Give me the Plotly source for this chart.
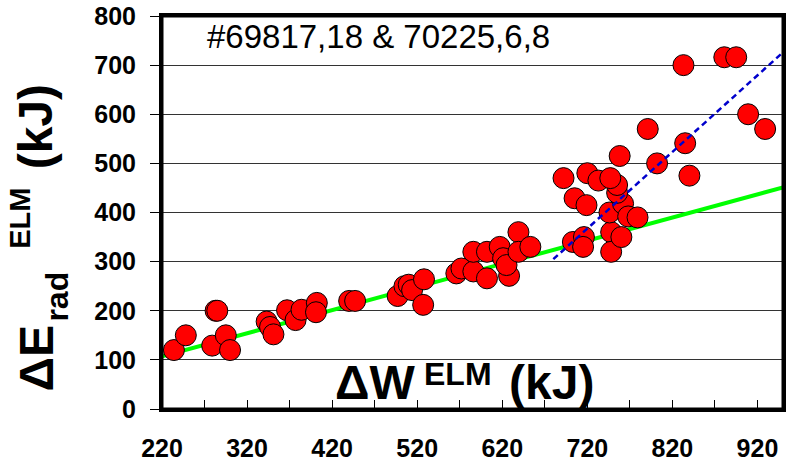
import plotly.graph_objects as go

# ---- data ----
dW = [234, 248, 283, 285, 279, 295, 300, 343, 347, 351, 367, 377, 384, 402, 401,
      440, 447, 497, 505, 510, 514, 528, 527, 566, 572, 586, 586, 602, 602, 617,
      621, 628, 625, 639, 639, 653, 703, 716, 715, 748, 748, 760, 746, 762, 705,
      719, 768, 779, 755, 755, 692, 720, 733, 747, 758, 791, 802, 835, 840, 833,
      881, 895, 909, 929]
dE = [120, 150, 200, 200, 129, 150, 120, 178, 167, 152, 201, 181, 202, 216, 197,
      220, 220, 230, 250, 253, 242, 264, 212, 276, 286, 280, 320, 320, 266, 330,
      307, 271, 293, 360, 320, 330, 340, 350, 330, 360, 320, 350, 400, 418, 429,
      415, 392, 390, 440, 456, 470, 480, 465, 470, 515, 570, 500, 541, 475, 700,
      716, 716, 600, 570]

green_x = [220, 950]
green_y = [107, 451]
blue_x = [680, 950]
blue_y = [305, 726]

x_range = [220, 950]
y_range = [0, 800]
x_ticks = [220, 320, 420, 520, 620, 720, 820, 920]
y_ticks = [0, 100, 200, 300, 400, 500, 600, 700, 800]

FONT = "Liberation Sans, Arial, sans-serif"

fig = go.Figure()
fig.add_trace(go.Scatter(x=green_x, y=green_y, mode="lines",
                         line=dict(color="#00ff00", width=4), showlegend=False))
fig.add_trace(go.Scatter(x=dW, y=dE, mode="markers",
                         marker=dict(size=21, color="#ff0000",
                                     line=dict(color="black", width=1)),
                         showlegend=False))
fig.add_trace(go.Scatter(x=blue_x, y=blue_y, mode="lines",
                         line=dict(color="#0000cc", width=2.5, dash="6px,4px"),
                         showlegend=False))

fig.update_layout(
    width=796, height=464,
    margin=dict(l=162, r=13, t=16, b=55, autoexpand=False),
    paper_bgcolor="white", plot_bgcolor="white",
    font=dict(family=FONT, color="black"),
    showlegend=False,
)

fig.update_xaxes(
    range=x_range, tickvals=x_ticks, ticktext=[f"<b>{v}</b>" for v in x_ticks],
    tickfont=dict(size=25, family=FONT, color="black"),
    ticks="inside", ticklen=9, tickwidth=1, tickcolor="black",
    minor=dict(tick0=220, dtick=50, ticks="inside", ticklen=9, tickwidth=1,
               tickcolor="black", showgrid=False),
    showline=True, linecolor="black", linewidth=3, mirror=True,
    showgrid=False, zeroline=False, ticklabelstandoff=15, automargin=False,
    ticklabeloverflow="allow",
)
fig.update_yaxes(
    range=y_range, tickvals=y_ticks, ticktext=[f"<b>{v}</b>" for v in y_ticks],
    tickfont=dict(size=25, family=FONT, color="black"),
    ticks="outside", ticklen=9, tickwidth=1, tickcolor="black",
    showline=True, linecolor="black", linewidth=3, mirror=True,
    showgrid=True, gridcolor="#333333", gridwidth=1, zeroline=False,
    ticklabelstandoff=9, automargin=False, ticklabeloverflow="allow",
)

# frame around the plot area (matches the thick box of the original)
fig.add_shape(type="rect", xref="paper", yref="paper", x0=0, x1=1, y0=0, y1=1,
              line=dict(color="black", width=3), fillcolor="rgba(0,0,0,0)",
              layer="above")

ann = []
ann.append(dict(text="#69817,18 &amp; 70225,6,8", x=0.0692, y=0.949,
                xref="paper", yref="paper", xanchor="left", yanchor="middle",
                showarrow=False, font=dict(size=33, family=FONT, color="black")))
# x-axis title inside the plot
ann.append(dict(text="<b>ΔW</b>", x=0.2754, y=0.0680, xref="paper", yref="paper",
                xanchor="left", yanchor="middle", showarrow=False,
                font=dict(size=48, family=FONT, color="black")))
ann.append(dict(text="<b>ELM</b>", x=0.4187, y=0.0900, xref="paper", yref="paper",
                xanchor="left", yanchor="middle", showarrow=False,
                font=dict(size=32, family=FONT, color="black")))
ann.append(dict(text="<b>(kJ)</b>", x=0.5556, y=0.0668, xref="paper", yref="paper",
                xanchor="left", yanchor="middle", showarrow=False,
                font=dict(size=48, family=FONT, color="black")))
# y-axis title (rotated pieces)
for txt, xx, yy, sz in [("<b>ΔE</b>", -0.2021, 0.1298, 48),
                        ("<b>rad</b>", -0.1697, 0.2850, 32),
                        ("<b>ELM</b>", -0.2290, 0.4860, 29),
                        ("<b>(kJ)</b>", -0.2023, 0.7176, 48)]:
    ann.append(dict(text=txt, x=xx, y=yy, xref="paper", yref="paper",
                    xanchor="center", yanchor="middle", textangle=-90,
                    showarrow=False, font=dict(size=sz, family=FONT, color="black")))
fig.update_layout(annotations=ann)

# remove the browser's default 8px body margin so the figure fills the window
fig.write_html("out.html", config={"displayModeBar": False},
               post_script="document.body.style.margin='0';document.body.style.overflow='hidden';")
